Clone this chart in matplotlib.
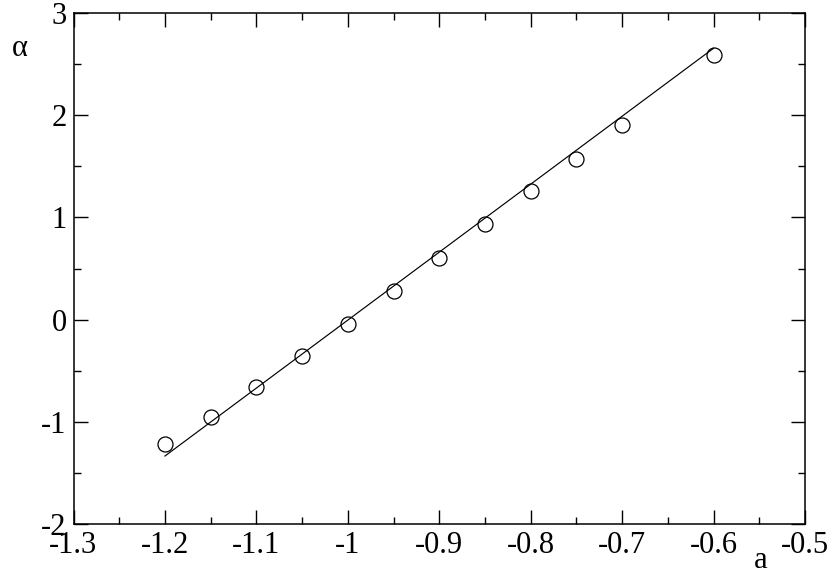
import matplotlib
matplotlib.use("Agg")
import matplotlib.pyplot as plt
from matplotlib.ticker import MultipleLocator, FormatStrFormatter

# Data
a_pts = [-1.2, -1.15, -1.1, -1.05, -1.0, -0.95, -0.9, -0.85, -0.8, -0.75, -0.7, -0.6]
alpha_pts = [-1.22, -0.95, -0.66, -0.36, -0.04, 0.28, 0.60, 0.935, 1.26, 1.57, 1.90, 2.59]
fit_a = [-1.2, -0.6]
fit_alpha = [-1.335, 2.655]

x_ticks = [-1.3, -1.2, -1.1, -1.0, -0.9, -0.8, -0.7, -0.6, -0.5]
x_labels = ["-1.3", "-1.2", "-1.1", "-1", "-0.9", "-0.8", "-0.7", "-0.6", "-0.5"]
y_ticks = [-2, -1, 0, 1, 2, 3]
y_labels = ["-2", "-1", "0", "1", "2", "3"]

plt.rcParams['font.family'] = ['Liberation Serif', 'DejaVu Serif']
plt.rcParams['mathtext.fontset'] = 'custom'

W, H = 830, 570
fig = plt.figure(figsize=(W / 100, H / 100), dpi=100)
L, R, T, B = 73.5, 805, 13, 524
ax = fig.add_axes([L / W, (H - B) / H, (R - L) / W, (B - T) / H])

ax.plot(fit_a, fit_alpha, color='black', lw=0.85)
ax.plot(a_pts, alpha_pts, linestyle='none', marker='o', markersize=10.8,
        markerfacecolor='none', markeredgecolor='black', markeredgewidth=0.9)

ax.set_xlim(-1.3, -0.5)
ax.set_ylim(-2, 3)
ax.set_xticks(x_ticks)
ax.set_xticklabels(x_labels)
ax.set_yticks(y_ticks)
ax.set_yticklabels(y_labels)
ax.xaxis.set_minor_locator(MultipleLocator(0.05))
ax.yaxis.set_minor_locator(MultipleLocator(0.5))

for s in ax.spines.values():
    s.set_linewidth(1.1)
ax.tick_params(which='both', direction='in', top=True, right=True, width=1.0,
               labelsize=22, colors='black')
ax.tick_params(which='major', length=10)
ax.tick_params(which='minor', length=5)
ax.tick_params(axis='x', which='major', pad=5)
ax.tick_params(axis='y', which='major', pad=5)

fig.text(20 / W, 1 - 49 / H, "α", fontsize=22, ha='center', va='center')
fig.text(761 / W, 1 - 560 / H, "a", fontsize=22, ha='center', va='center')

fig.savefig("out.png", dpi=100)
